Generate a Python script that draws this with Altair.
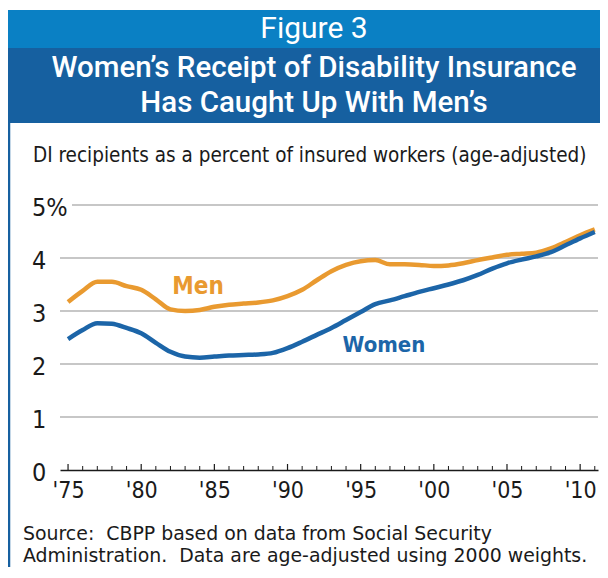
import altair as alt
import pandas as pd

years = list(range(1975, 2012))
men = [3.17, 3.38, 3.55, 3.55, 3.47, 3.40, 3.22, 3.03, 3.00, 3.02, 3.08, 3.12, 3.14, 3.16,
       3.20, 3.28, 3.40, 3.58, 3.75, 3.87, 3.94, 3.96, 3.88, 3.88, 3.87, 3.85, 3.86, 3.90,
       3.96, 4.01, 4.06, 4.08, 4.10, 4.18, 4.30, 4.43, 4.54]
women = [2.47, 2.64, 2.77, 2.76, 2.68, 2.58, 2.40, 2.23, 2.14, 2.12, 2.14, 2.16, 2.17, 2.18,
         2.21, 2.30, 2.42, 2.55, 2.68, 2.83, 2.98, 3.13, 3.20, 3.28, 3.36, 3.43, 3.50, 3.58,
         3.68, 3.80, 3.90, 3.97, 4.03, 4.11, 4.24, 4.37, 4.49]
x_label_years = [1975, 1980, 1985, 1990, 1995, 2000, 2005, 2010]
y_ticks = [0, 1, 2, 3, 4, 5]
y_tick_labels = ["0", "1", "2", "3", "4", "5%"]

figure_label = ["Figure 3"]
title_line1 = ["Women\u2019s Receipt of Disability Insurance"]
title_line2 = ["Has Caught Up With Men\u2019s"]
subtitle = ["DI recipients as a percent of insured workers (age-adjusted)"]
source_line1 = ["Source:\u00a0 CBPP based on data from Social Security"]
source_line2 = ["Administration.\u00a0 Data are age-adjusted using 2000 weights."]

ORANGE = "#E99A30"
BLUE = "#1C65A8"
HEAD1 = "#0A80C4"
HEAD2 = "#1660A0"
NARROW = "Liberation Sans Narrow, DejaVu Sans Condensed, Arial Narrow, sans-serif"
SRCFONT = "DejaVu Sans, Verdana, sans-serif"

W, H = 538, 265

df = pd.DataFrame({
    "year": years * 2,
    "value": men + women,
    "series": ["Men"] * len(years) + ["Women"] * len(years),
})

xscale = alt.Scale(domain=[1974.45, 2011.22], nice=False, zero=False)
yscale = alt.Scale(domain=[0, 5], nice=False)

one = pd.DataFrame({"a": [0]})


def text_layer(lines, x, y, **kw):
    return alt.Chart(pd.DataFrame({"t": lines})).mark_text(**kw).encode(
        x=alt.value(x), y=alt.value(y), text="t:N")


head_top = alt.Chart(one).mark_rect(color=HEAD1).encode(
    x=alt.value(-52), x2=alt.value(540), y=alt.value(-195), y2=alt.value(-157))
head_bot = alt.Chart(one).mark_rect(color=HEAD2).encode(
    x=alt.value(-52), x2=alt.value(540), y=alt.value(-157), y2=alt.value(-82))
left_border = alt.Chart(one).mark_rule(color=HEAD2, strokeWidth=2.5).encode(
    x=alt.value(-51), y=alt.value(-82), y2=alt.value(362))

fig_txt = text_layer(figure_label, 254, -176, font="Roboto", fontSize=30, color="white",
                     align="center", baseline="middle")
title1 = text_layer(title_line1, 254, -137, font="Roboto", fontSize=29.5, fontWeight=500,
                    color="white", align="center", baseline="middle")
title2 = text_layer(title_line2, 254, -102, font="Roboto", fontSize=29.5, fontWeight=500,
                    color="white", align="center", baseline="middle")
sub_txt = text_layer(subtitle, -27, -43, font=NARROW, fontSize=20.5, color="#1a1a1a",
                     align="left", baseline="alphabetic")

grid_df = pd.DataFrame({"v": y_ticks, "lab": y_tick_labels})
grid_low = alt.Chart(grid_df).transform_filter("datum.v > 0 && datum.v < 5").mark_rule(
    color="#B4B4B4", strokeWidth=1.5).encode(
    x=alt.value(0), x2=alt.value(W), y=alt.Y("v:Q", scale=yscale, axis=None))
grid_top = alt.Chart(grid_df).transform_filter("datum.v == 5").mark_rule(
    color="#B4B4B4", strokeWidth=1.5).encode(
    x=alt.value(12), x2=alt.value(W), y=alt.Y("v:Q", scale=yscale, axis=None))

ylab = alt.Chart(grid_df).mark_text(
    font=NARROW, fontSize=25, color="#1a1a1a", align="left", baseline="middle", dy=3
).encode(x=alt.value(-28), y=alt.Y("v:Q", scale=yscale, axis=None), text="lab:N")

ticks_df = pd.DataFrame({"year": years})
ticks_minor = alt.Chart(ticks_df).transform_filter("datum.year % 5 != 0").mark_rule(
    color="#1a1a1a", strokeWidth=1).encode(
    x=alt.X("year:Q", scale=xscale), y=alt.value(H), y2=alt.value(H - 4))
ticks_major = alt.Chart(ticks_df).transform_filter("datum.year % 5 == 0").mark_rule(
    color="#1a1a1a", strokeWidth=1.2).encode(
    x=alt.X("year:Q", scale=xscale), y=alt.value(H), y2=alt.value(H - 6))

lines = alt.Chart(df).mark_line(strokeWidth=4.5, interpolate="monotone").encode(
    x=alt.X("year:Q", scale=xscale,
            axis=alt.Axis(values=x_label_years, title=None, grid=False, ticks=False,
                          domainColor="#1a1a1a", domainWidth=1.5,
                          labelFont=NARROW, labelFontSize=23, labelColor="#1a1a1a",
                          labelPadding=9, labelFlush=False,
                          labelExpr="\"'\" + substring(toString(datum.value), 2)")),
    y=alt.Y("value:Q", scale=yscale, axis=None),
    color=alt.Color("series:N", scale=alt.Scale(domain=["Men", "Women"], range=[ORANGE, BLUE]),
                    legend=None),
    order="year:Q")

men_lab = text_layer(["Men"], 138, 82, font=NARROW, fontSize=24, fontWeight="bold",
                     color=ORANGE, align="center", baseline="middle")
women_lab = text_layer(["Women"], 324, 140, font=NARROW, fontSize=22, fontWeight="bold",
                       color=BLUE, align="center", baseline="middle")

src1 = text_layer(source_line1, -37, 335, font=SRCFONT, fontSize=18.9, color="#1a1a1a",
                  align="left", baseline="alphabetic")
src2 = text_layer(source_line2, -37, 357, font=SRCFONT, fontSize=18.9, color="#1a1a1a",
                  align="left", baseline="alphabetic")

chart = alt.layer(
    head_top, head_bot, left_border, fig_txt, title1, title2, sub_txt,
    grid_low, grid_top, ylab, lines, ticks_minor, ticks_major, men_lab, women_lab, src1, src2
).properties(
    width=W, height=H,
    padding={"left": 52, "top": 197, "right": 2, "bottom": 100},
    autosize=alt.AutoSizeParams(type="none"),
    background="white",
).configure_view(stroke=None)

chart.save("out.html", embed_options={"renderer": "svg", "actions": False})
